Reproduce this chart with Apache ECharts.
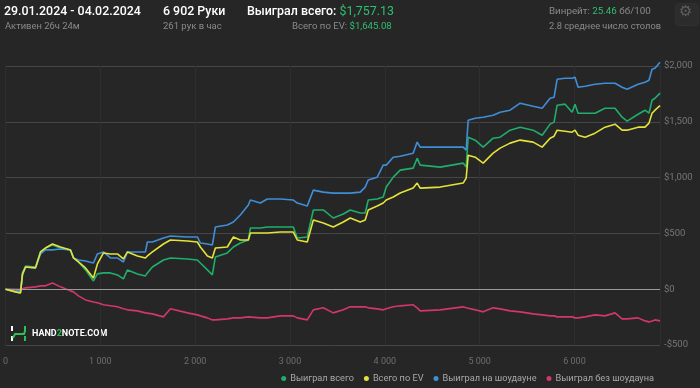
<!DOCTYPE html>
<html>
<head>
<meta charset="utf-8">
<script src="https://cdn.jsdelivr.net/npm/echarts@6/dist/echarts.min.js"></script>
<style>
html,body{margin:0;padding:0;background:#262626;}
#c{width:700px;height:388px;}
</style>
</head>
<body>
<div id="c"></div>
<script>
// Hands played (x axis)
const hands = [0,105,158,179,211,316,369,421,495,580,685,717,769,843,927,969,1033,1106,1180,1243,1286,1391,1475,1496,1549,1665,1739,1918,2023,2055,2129,2181,2213,2339,2403,2476,2561,2582,2687,2761,2898,3035,3077,3182,3246,3351,3456,3562,3635,3741,3793,3825,3920,3983,4015,4089,4162,4299,4341,4373,4584,4826,4858,4879,4953,5037,5142,5216,5321,5427,5564,5659,5743,5785,5817,5901,5975,6006,6038,6112,6217,6322,6428,6502,6555,6671,6744,6786,6818,6849,6902];
// Выиграл всего
const wonTotal = [0,-24,-33,146,208,199,334,369,396,369,352,280,244,173,74,137,146,146,128,92,173,137,119,146,199,262,280,271,262,235,173,128,289,325,378,414,441,548,548,557,557,557,459,468,710,710,638,674,710,683,683,799,808,826,915,1004,1067,1085,1174,1112,1094,1130,1094,1362,1335,1273,1353,1362,1425,1452,1425,1380,1479,1497,1649,1658,1586,1658,1577,1577,1577,1622,1622,1541,1506,1568,1604,1577,1693,1711,1757];
// Всего по EV
const wonEV = [0,-24,-33,137,199,191,334,369,405,378,352,280,244,191,101,226,325,316,316,271,334,298,280,298,334,405,441,432,423,378,298,280,369,378,468,441,441,504,504,504,512,512,441,423,620,593,557,602,638,602,620,709,745,772,799,826,862,906,951,906,915,951,996,1201,1183,1130,1219,1264,1309,1336,1318,1273,1353,1371,1425,1416,1407,1425,1380,1362,1398,1452,1479,1425,1425,1452,1452,1488,1577,1604,1645];
// Выиграл на шоудауне
const wonSD = [0,-6,-15,127,199,191,316,352,352,360,352,280,262,253,235,316,334,280,280,244,334,334,334,423,423,459,477,468,468,414,405,396,557,575,602,665,754,799,772,808,808,799,772,745,888,870,861,861,861,870,915,978,1004,1112,1112,1183,1192,1219,1318,1273,1273,1273,1246,1514,1532,1541,1559,1586,1604,1667,1640,1622,1711,1720,1881,1890,1890,1899,1810,1819,1837,1846,1846,1810,1792,1837,1855,1872,1971,1980,2034];
// Выиграл без шоудауна
const wonNSD = [0,0,0,12,12,21,30,30,56,21,-15,-24,-60,-96,-114,-122,-140,-149,-158,-176,-185,-194,-212,-212,-221,-248,-176,-212,-230,-239,-257,-275,-275,-266,-257,-257,-248,-248,-257,-257,-239,-239,-257,-275,-185,-167,-212,-185,-158,-158,-158,-167,-176,-185,-176,-158,-149,-140,-167,-194,-185,-158,-167,-167,-185,-203,-167,-176,-194,-203,-221,-230,-239,-239,-248,-248,-248,-257,-257,-248,-230,-239,-212,-266,-266,-257,-284,-293,-284,-275,-284];
const seriesNames = ['Выиграл всего','Всего по EV','Выиграл на шоудауне','Выиграл без шоудауна'];
const yTicks = [-500,0,500,1000,1500,2000];
const xTicks = [0,1000,2000,3000,4000,5000,6000];

const colors = {total:'#1fae6b', ev:'#e3e33a', sd:'#3f8ed8', nsd:'#d2366b'};
const pair = arr => hands.map((h,i)=>[h,arr[i]]);
const fmtHands = v => String(v).replace(/\B(?=(\d{3})+(?!\d))/g,' ');
const fmtMoney = v => (v<0?'-$':'$') + String(Math.abs(v)).replace(/\B(?=(\d{3})+(?!\d))/g,',');
const FF = 'Roboto, "Noto Sans", sans-serif';

const chart = echarts.init(document.getElementById('c'), null, {renderer:'canvas'});
const lineSeries = (name, arr, color, z) => ({
  name, type:'line', data: pair(arr), showSymbol:false, symbol:'none', clip:false,
  lineStyle:{color, width:1.6}, itemStyle:{color}, z, animation:false, silent:true
});
const option = {
  backgroundColor:'#262626',
  animation:false,
  textStyle:{fontFamily:FF},
  grid:{left:5, right:40, top:66, bottom:43},
  xAxis:{
    type:'value', min:0, max:6902, interval:1000,
    axisLine:{show:false}, axisTick:{show:false},
    axisLabel:{color:'#6e6e6e', fontSize:9, margin:12, fontFamily:FF,
      formatter: v => xTicks.includes(v) ? fmtHands(v) : ''},
    splitLine:{show:true, lineStyle:{color:'#2e2e2e', width:1}}
  },
  yAxis:{
    type:'value', position:'right', min:-500, max:2000, interval:500,
    axisLine:{show:false}, axisTick:{show:false},
    axisLabel:{color:'#777', fontSize:9.5, margin:4, fontFamily:FF,
      formatter: v => yTicks.includes(v) ? fmtMoney(v) : ''},
    splitLine:{show:true, lineStyle:{color:'#464646', width:1}}
  },
  legend:{
    data: seriesNames, right:41, top:369, icon:'circle', itemWidth:5, itemHeight:5, itemGap:10,
    textStyle:{color:'#a8a8a8', fontSize:9.2, fontFamily:FF, padding:[0,0,0,-1]}, selectedMode:false
  },
  series:[
    Object.assign(lineSeries(seriesNames[3], wonNSD, colors.nsd, 2), {
      markLine:{silent:true, symbol:'none', label:{show:false},
        lineStyle:{color:'#9a9a9a', type:'solid', width:1}, data:[{yAxis:0}], animation:false}
    }),
    lineSeries(seriesNames[0], wonTotal, colors.total, 3),
    lineSeries(seriesNames[2], wonSD, colors.sd, 4),
    lineSeries(seriesNames[1], wonEV, colors.ev, 5)
  ],
  graphic:[
    {type:'text', left:4, top:6, style:{text:'29.01.2024 - 04.02.2024', fill:'#ffffff', font:'500 12.4px '+FF}},
    {type:'text', left:5, top:22, style:{text:'Активен 26ч 24м', fill:'#8a8a8a', font:'9.4px '+FF}},
    {type:'text', left:163, top:6, style:{text:'6 902 Руки', fill:'#ffffff', font:'500 12.4px '+FF}},
    {type:'text', left:163, top:22, style:{text:'261 рук в час', fill:'#8a8a8a', font:'9.5px '+FF}},
    {type:'text', left:247, top:6, style:{text:'{a|Выиграл всего: }{b|$1,757.13}',
      rich:{a:{fill:'#ffffff', font:'500 12.4px '+FF}, b:{fill:'#2fbf71', font:'12.4px '+FF}}}},
    {type:'text', left:292, top:22, style:{text:'{a|Всего по EV: }{b|$1,645.08}',
      rich:{a:{fill:'#8a8a8a', font:'9.6px '+FF}, b:{fill:'#2fbf71', font:'9.6px '+FF}}}},
    {type:'text', left:549, top:7, style:{text:'{a|Винрейт: }{b|25.46}{a| бб/100}',
      rich:{a:{fill:'#8a8a8a', font:'9.8px '+FF}, b:{fill:'#2fbf71', font:'9.8px '+FF}}}},
    {type:'text', left:549, top:22, style:{text:'2.8 среднее число столов', fill:'#8a8a8a', font:'9.3px '+FF}},
    {type:'rect', left:675, top:3, shape:{width:23, height:22, r:3}, style:{fill:'#2c2c2c', stroke:'#303030'}},
    {type:'text', left:679, top:5, style:{text:'⚙', fill:'#5f5f5f', font:'15px "DejaVu Sans"'}},
    {type:'polyline', shape:{points:[[12,326],[12,331]]}, style:{stroke:'#ffffff', lineWidth:2}},
    {type:'polyline', shape:{points:[[12,336],[12,341]]}, style:{stroke:'#ffffff', lineWidth:2}},
    {type:'polyline', shape:{points:[[13,338],[15,334],[24,334],[25,331],[25,326]]}, style:{stroke:'#2fbf55', lineWidth:2, fill:null}},
    {type:'polyline', shape:{points:[[25,336],[25,341]]}, style:{stroke:'#2fbf55', lineWidth:2}},
    {type:'text', left:32, top:329, style:{text:'{a|HAND}{b|2}{a|NOTE.COM}',
      rich:{a:{fill:'#ffffff', font:'bold 9px '+FF}, b:{fill:'#2fbf55', font:'bold 9px '+FF}}}}
  ]
};
chart.setOption(option);
</script>
</body>
</html>
